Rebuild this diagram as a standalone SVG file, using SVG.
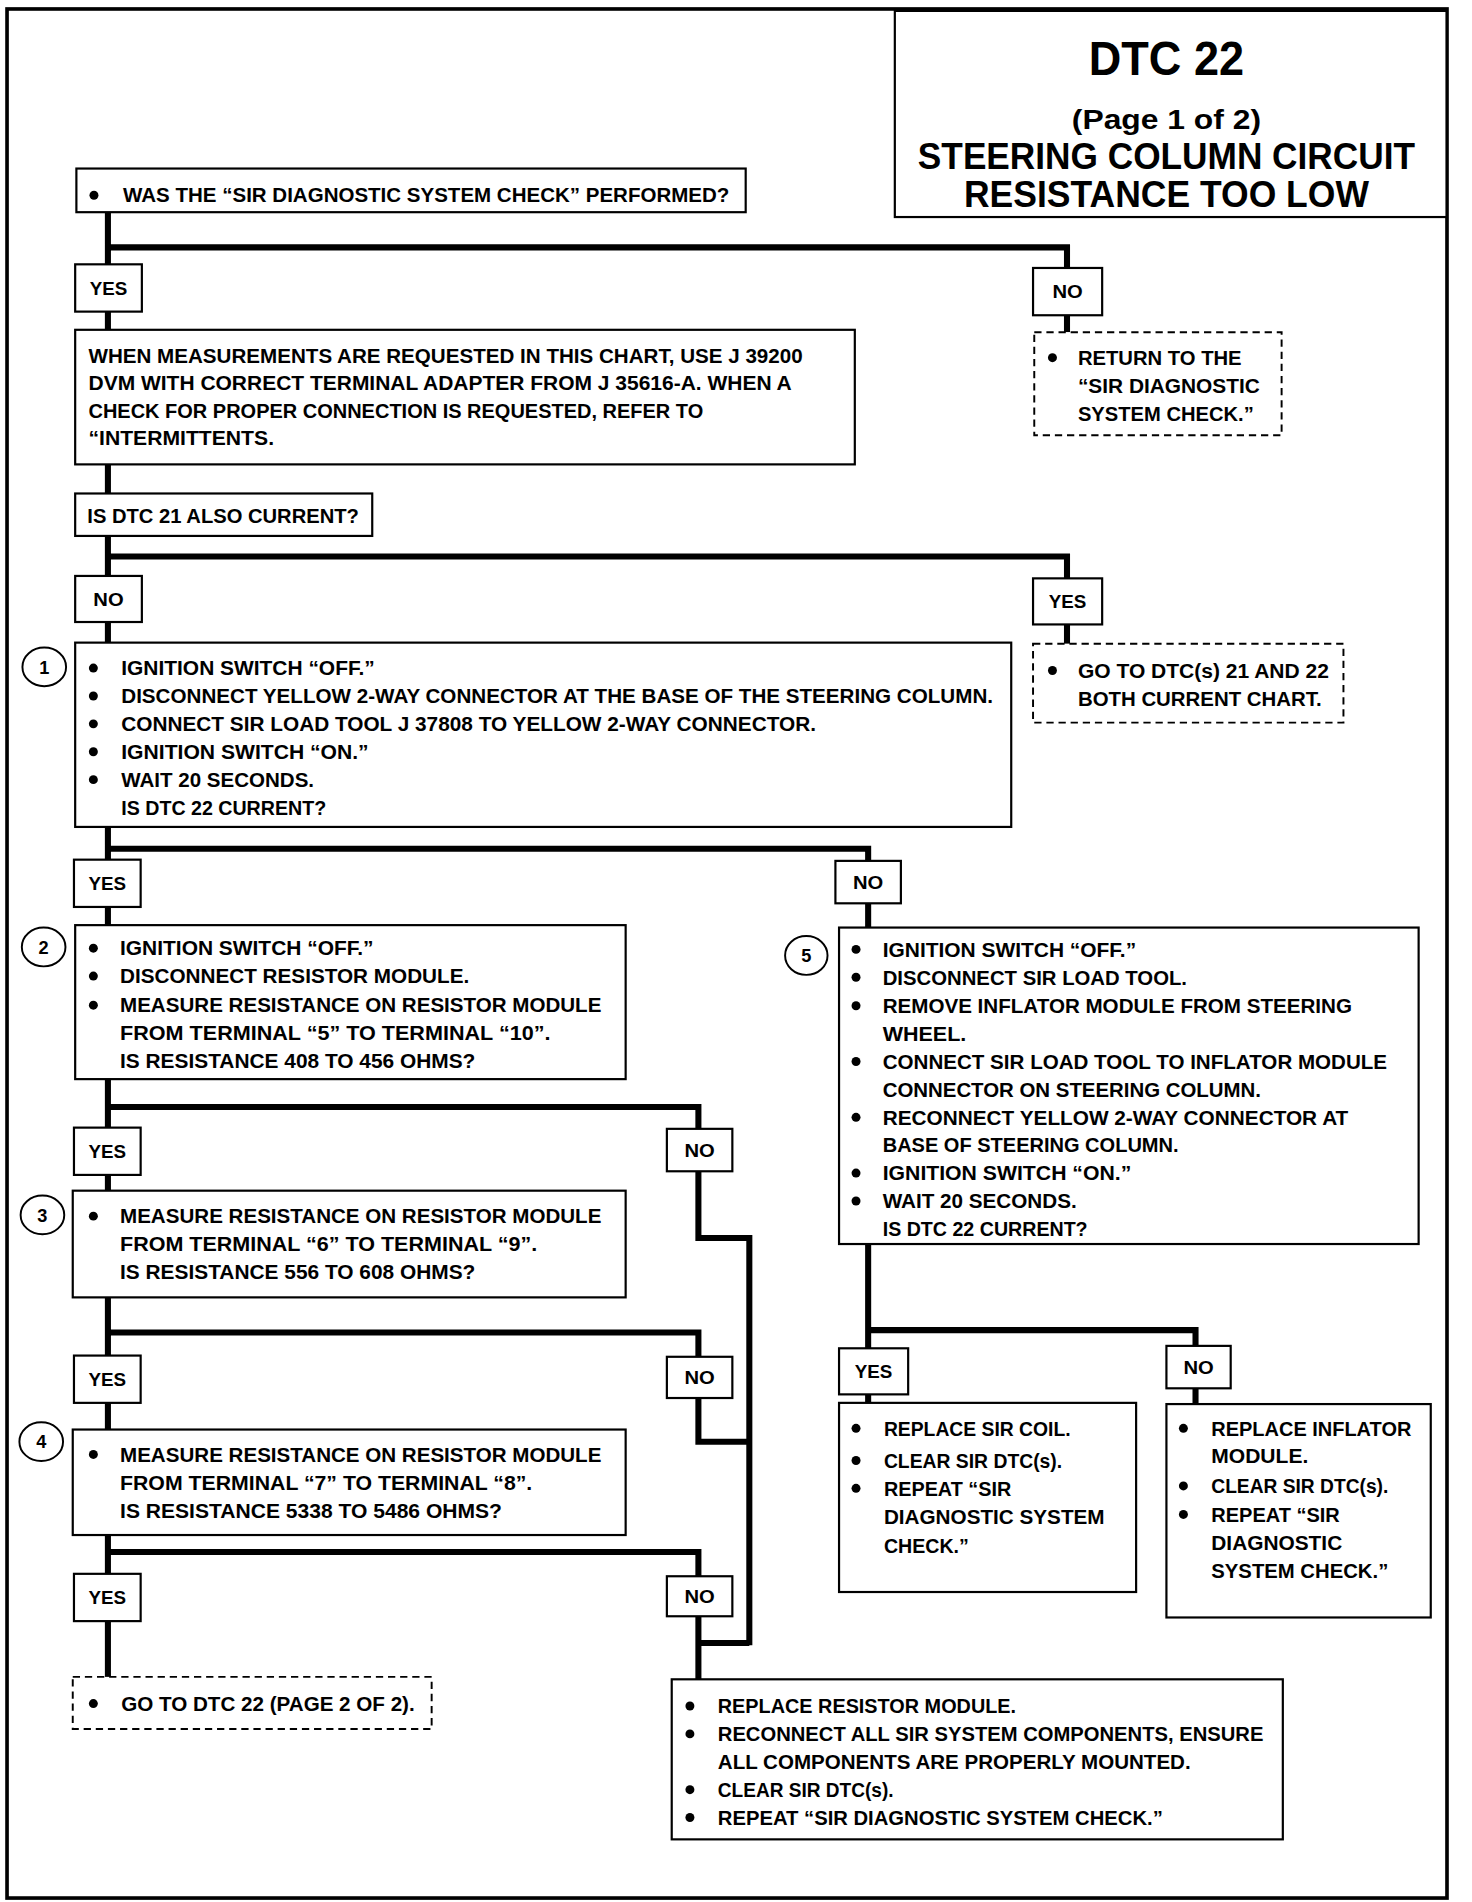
<svg xmlns="http://www.w3.org/2000/svg" width="1472" height="1902" viewBox="0 0 1472 1902">
<style>
.bx{fill:#fff;stroke:#000;stroke-width:1.8}
.ds{fill:#fff;stroke:#000;stroke-width:1.6;stroke-dasharray:6 4}
.lb{fill:#fff;stroke:#000;stroke-width:1.8}
.cn{fill:none;stroke:#000;stroke-width:5;stroke-linejoin:miter}
.t{font-family:"Liberation Sans",Arial,sans-serif;font-weight:bold;font-size:17px;fill:#000}
.l{font-family:"Liberation Sans",Arial,sans-serif;font-weight:bold;font-size:15px;fill:#000;text-anchor:middle}
.h{font-family:"Liberation Sans",Arial,sans-serif;font-weight:bold;fill:#000;text-anchor:middle}
.b{fill:#000}
.c{fill:#fff;stroke:#000;stroke-width:1.6}
</style>
<rect x="0" y="0" width="1472" height="1902" fill="#fff"/>
<g transform="scale(1.2125)">
<rect x="5.8" y="7.4" width="1187.6" height="1558" fill="none" stroke="#000" stroke-width="3"/>

<g id="connectors">
<path class="cn" d="M89,175 V272 M89,204 H880 V274"/>
<path class="cn" d="M89,383 V407"/>
<path class="cn" d="M89,442 V530 M89,459 H880 V531"/>
<path class="cn" d="M89,682 V763 M89,700 H716 V765"/>
<path class="cn" d="M89,890 V982 M89,913 H576 V931"/>
<path class="cn" d="M576,966 V1021 H618 V1357"/>
<path class="cn" d="M89,1070 V1179 M89,1099 H576 V1119"/>
<path class="cn" d="M576,1153 V1189 H618"/>
<path class="cn" d="M89,1266 V1383 M89,1280 H576 V1385"/>
<path class="cn" d="M576,1355 H618"/>
<path class="cn" d="M716,1026 V1157 M716,1097 H986 V1158"/>
</g>

<g id="title">
<rect class="bx" x="738" y="9" width="455" height="170"/>
<text class="h" x="962" y="62" font-size="40" textLength="128" lengthAdjust="spacingAndGlyphs">DTC 22</text>
<text class="h" x="962" y="106" font-size="23" textLength="156" lengthAdjust="spacingAndGlyphs">(Page 1 of 2)</text>
<text class="h" x="962" y="139" font-size="31" textLength="410" lengthAdjust="spacingAndGlyphs">STEERING COLUMN CIRCUIT</text>
<text class="h" x="962" y="171" font-size="31" textLength="334" lengthAdjust="spacingAndGlyphs">RESISTANCE TOO LOW</text>
</g>

<g id="q-check">
<rect class="bx" x="63" y="139" width="552" height="36"/>
<circle class="b" cx="77.5" cy="161" r="3.7"/>
<text class="t" x="101.5" y="167" textLength="500" lengthAdjust="spacingAndGlyphs">WAS THE “SIR DIAGNOSTIC SYSTEM CHECK” PERFORMED?</text>
</g>

<g id="yes-1"><rect class="lb" x="62" y="218" width="55" height="39"/><text class="l" x="89.5" y="243" textLength="31" lengthAdjust="spacingAndGlyphs">YES</text></g>
<g id="no-1"><rect class="lb" x="852" y="221" width="57" height="39"/><text class="l" x="880.5" y="246" textLength="25" lengthAdjust="spacingAndGlyphs">NO</text></g>

<g id="return-check">
<rect class="ds" x="853" y="274" width="204" height="85"/>
<circle class="b" cx="868" cy="295" r="3.7"/>
<text class="t" x="889" y="301" textLength="135" lengthAdjust="spacingAndGlyphs">RETURN TO THE</text>
<text class="t" x="889" y="324" textLength="150" lengthAdjust="spacingAndGlyphs">“SIR DIAGNOSTIC</text>
<text class="t" x="889" y="347" textLength="145" lengthAdjust="spacingAndGlyphs">SYSTEM CHECK.”</text>
</g>

<g id="note">
<rect class="bx" x="62" y="272" width="643" height="111"/>
<text class="t" x="73" y="299" textLength="589" lengthAdjust="spacingAndGlyphs">WHEN MEASUREMENTS ARE REQUESTED IN THIS CHART, USE J 39200</text>
<text class="t" x="73" y="322" textLength="580" lengthAdjust="spacingAndGlyphs">DVM WITH CORRECT TERMINAL ADAPTER FROM J 35616-A.  WHEN A</text>
<text class="t" x="73" y="345" textLength="507" lengthAdjust="spacingAndGlyphs">CHECK FOR PROPER CONNECTION IS REQUESTED, REFER TO</text>
<text class="t" x="73" y="367" textLength="153" lengthAdjust="spacingAndGlyphs">“INTERMITTENTS.</text>
</g>

<g id="q-dtc21">
<rect class="bx" x="62" y="407" width="245" height="35"/>
<text class="t" x="72" y="431" textLength="224" lengthAdjust="spacingAndGlyphs">IS DTC 21 ALSO CURRENT?</text>
</g>

<g id="no-2"><rect class="lb" x="62" y="475" width="55" height="38"/><text class="l" x="89.5" y="499.5" textLength="25" lengthAdjust="spacingAndGlyphs">NO</text></g>
<g id="yes-2"><rect class="lb" x="852" y="477" width="57" height="38"/><text class="l" x="880.5" y="501.5" textLength="31" lengthAdjust="spacingAndGlyphs">YES</text></g>

<g id="goto-21-22">
<rect class="ds" x="852" y="531" width="256" height="65"/>
<circle class="b" cx="868" cy="553" r="3.7"/>
<text class="t" x="889" y="559" textLength="207" lengthAdjust="spacingAndGlyphs">GO TO DTC(s) 21 AND 22</text>
<text class="t" x="889" y="582" textLength="201" lengthAdjust="spacingAndGlyphs">BOTH CURRENT CHART.</text>
</g>

<g id="step-1">
<ellipse class="c" cx="36.5" cy="550" rx="18" ry="16"/>
<text class="l" x="36.5" y="555.5">1</text>
<rect class="bx" x="62" y="530" width="772" height="152"/>
<circle class="b" cx="77" cy="551" r="3.7"/>
<circle class="b" cx="77" cy="574" r="3.7"/>
<circle class="b" cx="77" cy="597" r="3.7"/>
<circle class="b" cx="77" cy="620" r="3.7"/>
<circle class="b" cx="77" cy="643" r="3.7"/>
<text class="t" x="100" y="557" textLength="209" lengthAdjust="spacingAndGlyphs">IGNITION SWITCH “OFF.”</text>
<text class="t" x="100" y="580" textLength="719" lengthAdjust="spacingAndGlyphs">DISCONNECT YELLOW 2-WAY CONNECTOR AT THE BASE OF THE STEERING COLUMN.</text>
<text class="t" x="100" y="603" textLength="573" lengthAdjust="spacingAndGlyphs">CONNECT SIR LOAD TOOL J 37808 TO YELLOW 2-WAY CONNECTOR.</text>
<text class="t" x="100" y="626" textLength="204" lengthAdjust="spacingAndGlyphs">IGNITION SWITCH “ON.”</text>
<text class="t" x="100" y="649" textLength="159" lengthAdjust="spacingAndGlyphs">WAIT 20 SECONDS.</text>
<text class="t" x="100" y="672" textLength="169" lengthAdjust="spacingAndGlyphs">IS DTC 22 CURRENT?</text>
</g>

<g id="yes-3"><rect class="lb" x="61" y="709" width="55" height="39"/><text class="l" x="88.5" y="734" textLength="31" lengthAdjust="spacingAndGlyphs">YES</text></g>
<g id="no-3"><rect class="lb" x="689" y="710" width="54" height="35"/><text class="l" x="716" y="733" textLength="25" lengthAdjust="spacingAndGlyphs">NO</text></g>

<g id="step-2">
<ellipse class="c" cx="36" cy="781" rx="18" ry="16"/>
<text class="l" x="36" y="786.5">2</text>
<rect class="bx" x="62" y="763" width="454" height="127"/>
<circle class="b" cx="77" cy="782" r="3.7"/>
<circle class="b" cx="77" cy="805" r="3.7"/>
<circle class="b" cx="77" cy="829" r="3.7"/>
<text class="t" x="99" y="788" textLength="209" lengthAdjust="spacingAndGlyphs">IGNITION SWITCH “OFF.”</text>
<text class="t" x="99" y="811" textLength="288" lengthAdjust="spacingAndGlyphs">DISCONNECT RESISTOR MODULE.</text>
<text class="t" x="99" y="835" textLength="397" lengthAdjust="spacingAndGlyphs">MEASURE RESISTANCE ON RESISTOR MODULE</text>
<text class="t" x="99" y="858" textLength="355" lengthAdjust="spacingAndGlyphs">FROM TERMINAL “5” TO TERMINAL “10”.</text>
<text class="t" x="99" y="881" textLength="293" lengthAdjust="spacingAndGlyphs">IS RESISTANCE 408 TO 456 OHMS?</text>
</g>

<g id="step-5">
<ellipse class="c" cx="665" cy="788" rx="17.5" ry="16"/>
<text class="l" x="665" y="793.5">5</text>
<rect class="bx" x="692" y="765" width="478" height="261"/>
<circle class="b" cx="706" cy="783" r="3.7"/>
<circle class="b" cx="706" cy="806" r="3.7"/>
<circle class="b" cx="706" cy="829.5" r="3.7"/>
<circle class="b" cx="706" cy="875.5" r="3.7"/>
<circle class="b" cx="706" cy="921.5" r="3.7"/>
<circle class="b" cx="706" cy="967.5" r="3.7"/>
<circle class="b" cx="706" cy="990.5" r="3.7"/>
<text class="t" x="728" y="789" textLength="209" lengthAdjust="spacingAndGlyphs">IGNITION SWITCH “OFF.”</text>
<text class="t" x="728" y="812" textLength="251" lengthAdjust="spacingAndGlyphs">DISCONNECT SIR LOAD TOOL.</text>
<text class="t" x="728" y="835.5" textLength="387" lengthAdjust="spacingAndGlyphs">REMOVE INFLATOR MODULE FROM STEERING</text>
<text class="t" x="728" y="858.5" textLength="69" lengthAdjust="spacingAndGlyphs">WHEEL.</text>
<text class="t" x="728" y="881.5" textLength="416" lengthAdjust="spacingAndGlyphs">CONNECT SIR LOAD TOOL TO INFLATOR MODULE</text>
<text class="t" x="728" y="904.5" textLength="312" lengthAdjust="spacingAndGlyphs">CONNECTOR ON STEERING COLUMN.</text>
<text class="t" x="728" y="927.5" textLength="384" lengthAdjust="spacingAndGlyphs">RECONNECT YELLOW 2-WAY CONNECTOR AT</text>
<text class="t" x="728" y="950.5" textLength="244" lengthAdjust="spacingAndGlyphs">BASE OF STEERING COLUMN.</text>
<text class="t" x="728" y="973.5" textLength="205" lengthAdjust="spacingAndGlyphs">IGNITION SWITCH “ON.”</text>
<text class="t" x="728" y="996.5" textLength="160" lengthAdjust="spacingAndGlyphs">WAIT 20 SECONDS.</text>
<text class="t" x="728" y="1019.5" textLength="169" lengthAdjust="spacingAndGlyphs">IS DTC 22 CURRENT?</text>
</g>

<g id="yes-4"><rect class="lb" x="61" y="930" width="55" height="39"/><text class="l" x="88.5" y="955" textLength="31" lengthAdjust="spacingAndGlyphs">YES</text></g>
<g id="no-4"><rect class="lb" x="550" y="931" width="54" height="35"/><text class="l" x="577" y="954" textLength="25" lengthAdjust="spacingAndGlyphs">NO</text></g>

<g id="step-3">
<ellipse class="c" cx="35" cy="1002" rx="18" ry="16"/>
<text class="l" x="35" y="1007.5">3</text>
<rect class="bx" x="60" y="982" width="456" height="88"/>
<circle class="b" cx="77" cy="1003" r="3.7"/>
<text class="t" x="99" y="1009" textLength="397" lengthAdjust="spacingAndGlyphs">MEASURE RESISTANCE ON RESISTOR MODULE</text>
<text class="t" x="99" y="1032" textLength="344" lengthAdjust="spacingAndGlyphs">FROM TERMINAL “6” TO TERMINAL “9”.</text>
<text class="t" x="99" y="1055" textLength="293" lengthAdjust="spacingAndGlyphs">IS RESISTANCE 556 TO 608 OHMS?</text>
</g>

<g id="yes-5"><rect class="lb" x="61" y="1118" width="55" height="39"/><text class="l" x="88.5" y="1143" textLength="31" lengthAdjust="spacingAndGlyphs">YES</text></g>
<g id="no-5"><rect class="lb" x="550" y="1119" width="54" height="34"/><text class="l" x="577" y="1141.5" textLength="25" lengthAdjust="spacingAndGlyphs">NO</text></g>

<g id="step-4">
<ellipse class="c" cx="34" cy="1189" rx="18" ry="16"/>
<text class="l" x="34" y="1194.5">4</text>
<rect class="bx" x="60" y="1179" width="456" height="87"/>
<circle class="b" cx="77" cy="1199.5" r="3.7"/>
<text class="t" x="99" y="1205.5" textLength="397" lengthAdjust="spacingAndGlyphs">MEASURE RESISTANCE ON RESISTOR MODULE</text>
<text class="t" x="99" y="1228.5" textLength="340" lengthAdjust="spacingAndGlyphs">FROM TERMINAL “7” TO TERMINAL “8”.</text>
<text class="t" x="99" y="1252" textLength="315" lengthAdjust="spacingAndGlyphs">IS RESISTANCE 5338 TO 5486 OHMS?</text>
</g>

<g id="yes-6"><rect class="lb" x="61" y="1298" width="55" height="39"/><text class="l" x="88.5" y="1323" textLength="31" lengthAdjust="spacingAndGlyphs">YES</text></g>
<g id="no-6"><rect class="lb" x="550" y="1300" width="54" height="33"/><text class="l" x="577" y="1322" textLength="25" lengthAdjust="spacingAndGlyphs">NO</text></g>

<g id="goto-page2">
<rect class="ds" x="60" y="1383" width="296" height="43"/>
<circle class="b" cx="77" cy="1405" r="3.7"/>
<text class="t" x="100" y="1411" textLength="242" lengthAdjust="spacingAndGlyphs">GO TO DTC 22 (PAGE 2 OF 2).</text>
</g>

<g id="replace-resistor">
<rect class="bx" x="554" y="1385" width="504" height="132"/>
<circle class="b" cx="569" cy="1407" r="3.7"/>
<circle class="b" cx="569" cy="1430" r="3.7"/>
<circle class="b" cx="569" cy="1476" r="3.7"/>
<circle class="b" cx="569" cy="1499" r="3.7"/>
<text class="t" x="592" y="1413" textLength="246" lengthAdjust="spacingAndGlyphs">REPLACE RESISTOR MODULE.</text>
<text class="t" x="592" y="1436" textLength="450" lengthAdjust="spacingAndGlyphs">RECONNECT ALL SIR SYSTEM COMPONENTS, ENSURE</text>
<text class="t" x="592" y="1459" textLength="390" lengthAdjust="spacingAndGlyphs">ALL COMPONENTS ARE PROPERLY MOUNTED.</text>
<text class="t" x="592" y="1482" textLength="145" lengthAdjust="spacingAndGlyphs">CLEAR SIR DTC(s).</text>
<text class="t" x="592" y="1505" textLength="367" lengthAdjust="spacingAndGlyphs">REPEAT “SIR DIAGNOSTIC SYSTEM CHECK.”</text>
</g>

<g id="yes-7"><rect class="lb" x="692" y="1112" width="57" height="38"/><text class="l" x="720.5" y="1136.5" textLength="31" lengthAdjust="spacingAndGlyphs">YES</text></g>
<g id="no-7"><rect class="lb" x="962" y="1110" width="53" height="35"/><text class="l" x="988.5" y="1133" textLength="25" lengthAdjust="spacingAndGlyphs">NO</text></g>

<g id="replace-coil">
<rect class="bx" x="692" y="1157" width="245" height="156"/>
<circle class="b" cx="706" cy="1178" r="3.7"/>
<circle class="b" cx="706" cy="1204.5" r="3.7"/>
<circle class="b" cx="706" cy="1227.5" r="3.7"/>
<text class="t" x="729" y="1184" textLength="154" lengthAdjust="spacingAndGlyphs">REPLACE SIR COIL.</text>
<text class="t" x="729" y="1210.5" textLength="147" lengthAdjust="spacingAndGlyphs">CLEAR SIR DTC(s).</text>
<text class="t" x="729" y="1233.5" textLength="105" lengthAdjust="spacingAndGlyphs">REPEAT “SIR</text>
<text class="t" x="729" y="1257" textLength="182" lengthAdjust="spacingAndGlyphs">DIAGNOSTIC SYSTEM</text>
<text class="t" x="729" y="1280.5" textLength="70" lengthAdjust="spacingAndGlyphs">CHECK.”</text>
</g>

<g id="replace-inflator">
<rect class="bx" x="962" y="1158" width="218" height="176"/>
<circle class="b" cx="976" cy="1178" r="3.7"/>
<circle class="b" cx="976" cy="1225.5" r="3.7"/>
<circle class="b" cx="976" cy="1249" r="3.7"/>
<text class="t" x="999" y="1184" textLength="165" lengthAdjust="spacingAndGlyphs">REPLACE INFLATOR</text>
<text class="t" x="999" y="1206.5" textLength="80" lengthAdjust="spacingAndGlyphs">MODULE.</text>
<text class="t" x="999" y="1231.5" textLength="146" lengthAdjust="spacingAndGlyphs">CLEAR SIR DTC(s).</text>
<text class="t" x="999" y="1255" textLength="106" lengthAdjust="spacingAndGlyphs">REPEAT “SIR</text>
<text class="t" x="999" y="1278" textLength="108" lengthAdjust="spacingAndGlyphs">DIAGNOSTIC</text>
<text class="t" x="999" y="1301.5" textLength="146" lengthAdjust="spacingAndGlyphs">SYSTEM CHECK.”</text>
</g>
</g>
</svg>
